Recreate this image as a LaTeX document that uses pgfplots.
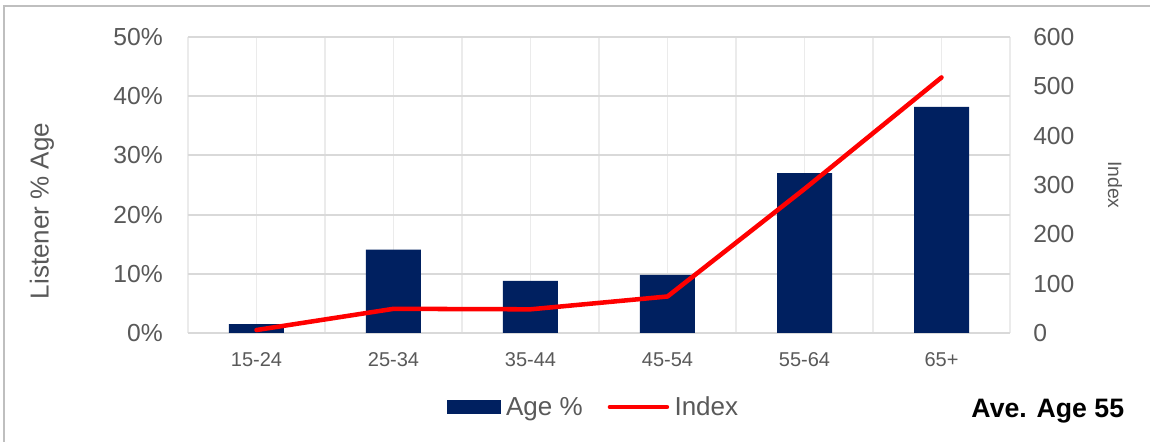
\documentclass[border=0pt]{standalone}
\usepackage{pgfplots}
\pgfplotsset{compat=1.18}
\usepackage{fontspec}
\setmainfont{Liberation Sans}
\definecolor{navy}{HTML}{002060}
\definecolor{txtgrey}{HTML}{595959}
\definecolor{gridh}{HTML}{D9D9D9}
\definecolor{gridv}{HTML}{EBEBEB}
\definecolor{framec}{HTML}{BFBFBF}
\begin{document}
\begin{tikzpicture}
\useasboundingbox (-141pt,-81.75pt) rectangle (721.5pt,249.75pt);
\fill[white] (-141pt,-81.75pt) rectangle (721.5pt,249.75pt);
\draw[framec, line width=1.3pt] (-138pt,-81.75pt) -- (-138pt,245.25pt) -- (721.5pt,245.25pt);
\begin{axis}[
  at={(0pt,0pt)}, anchor=south west,
  scale only axis, width=616.5pt, height=222pt,
  xmin=-0.5, xmax=5.5, ymin=0, ymax=50,
  axis y line*=left, axis x line*=bottom,
  axis line style={draw=none},
  xtick={0,...,5}, xticklabels={15-24,25-34,35-44,45-54,55-64,65+},
  minor xtick={-0.5,0.5,...,5.5},
  ytick={0,10,...,50},
  yticklabel={\pgfmathprintnumber{\tick}\%},
  /pgf/number format/assume math mode=true,
  major tick length=0pt, minor tick length=0pt,
  xmajorgrids, xminorgrids, ymajorgrids,
  major x grid style={gridv, line width=1pt},
  minor x grid style={gridv, line width=1pt},
  major y grid style={gridh, line width=1.5pt},
  yticklabel style={font=\fontsize{18.5}{20}\selectfont, text=txtgrey, anchor=east, inner sep=0pt, xshift=-18.75pt},
  xticklabel style={font=\fontsize{15}{17}\selectfont, text=txtgrey, anchor=north, inner sep=0pt, yshift=-14.5pt},
  ylabel={Listener \% Age},
  ylabel style={at={(axis description cs:-0.1776,0.412)}, anchor=center, font=\fontsize{19.5}{22}\selectfont, text=txtgrey},
]
\addplot[ybar, bar width=41.25pt, fill=navy, draw=none] coordinates {(0,1.5) (1,14.1) (2,8.8) (3,9.8) (4,27.0) (5,38.2)};
\end{axis}
\begin{axis}[
  at={(0pt,0pt)}, anchor=south west,
  scale only axis, width=616.5pt, height=222pt,
  xmin=-0.5, xmax=5.5, ymin=0, ymax=600,
  axis y line*=right, axis x line=none,
  axis line style={draw=none},
  ytick={0,100,...,600}, major tick length=0pt,
  /pgf/number format/assume math mode=true,
  yticklabel style={font=\fontsize{18.5}{20}\selectfont, text=txtgrey, anchor=west, inner sep=0pt, xshift=17.25pt},
  ylabel={Index},
  ylabel style={at={(axis description cs:1.1277,0.5)}, anchor=center, rotate=180, font=\fontsize{14.5}{17}\selectfont, text=txtgrey},
  clip=false,
  legend columns=-1,
  legend style={at={(axis description cs:0.315,-0.25)}, anchor=west, draw=none, fill=none, inner sep=0pt,
    font=\fontsize{19.5}{22}\selectfont, text=txtgrey,
    nodes={inner xsep=1.5pt, inner ysep=0pt},
    /tikz/every odd column/.append style={column sep=2.5pt},
    /tikz/every even column/.append style={column sep=17.25pt}},
]
\addlegendimage{legend image code/.code={\fill[navy] (0pt,-4.875pt) rectangle (39.75pt,4.875pt);}}
\addlegendentry{Age \%}
\addplot[red, line width=3.4pt, line cap=round, line join=round,
  legend image code/.code={\path (0pt,0pt) rectangle (42.75pt,0pt); \draw[red, line width=3pt, line cap=round] (1.5pt,0pt) -- (41.25pt,0pt);}]
  coordinates {(0,6) (1,49) (2,48) (3,74) (4,292) (5,518)};
\addlegendentry{Index}
\node[font=\bfseries\fontsize{20}{22}\selectfont, text=black, anchor=center] at (axis description cs:1.046,-0.2635) {Ave. Age 55};
\end{axis}
\end{tikzpicture}
\end{document}
